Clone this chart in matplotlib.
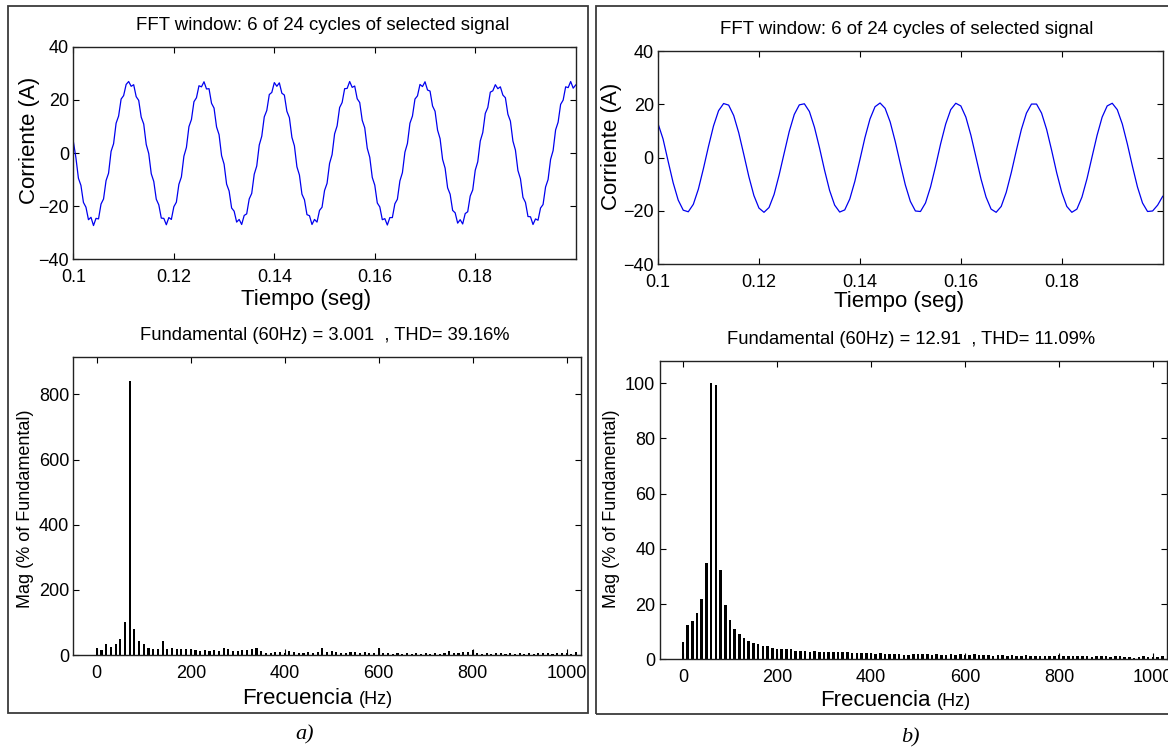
import numpy as np
import matplotlib.pyplot as plt
from matplotlib.patches import Rectangle

# ---- data ----
# a) current trace, sampled every 0.5 ms from 0.1 s to 0.2 s
T_A = np.linspace(0.1, 0.2, 201)
I_A = [
    4.2, -1.8, -9.5, -12.2, -18.6, -20.4, -25.1, -24.2, -27.3, -24.6,
    -24.8, -19.2, -17.3, -10.4, -7.6, 0.6, 3.5, 11.2, 13.9, 20.3,
    21.6, 25.8, 26.9, 25.1, 25.7, 21.2, 19.8, 13.5, 10.9, 3.2,
    -0.2, -7.8, -10.7, -17.4, -19.5, -24.5, -24.6, -27.0, -24.3, -25.0,
    -20.2, -18.5, -11.8, -9.0, -1.2, 2.1, 9.9, 12.6, 19.3, 20.8,
    25.3, 24.9, 26.8, 24.1, 24.2, 18.7, 16.9, 9.8, 6.9, -1.0,
    -4.2, -11.7, -14.3, -20.7, -21.9, -26.0, -25.0, -26.9, -23.5, -22.9,
    -17.3, -15.2, -8.0, -4.9, 3.0, 6.3, 13.6, 16.0, 22.0, 22.8,
    26.5, 25.1, 26.4, 22.5, 21.8, 15.7, 13.3, 5.9, 2.7, -5.2,
    -8.3, -15.5, -17.6, -23.2, -23.6, -26.9, -25.0, -26.0, -21.6, -20.4,
    -14.1, -11.4, -3.9, -0.6, 7.2, 10.2, 17.1, 19.0, 24.2, 24.3,
    26.9, 24.7, 25.2, 20.4, 19.0, 12.3, 9.5, 1.8, -1.6, -9.2,
    -12.1, -18.8, -20.3, -25.1, -24.7, -27.1, -24.3, -24.3, -19.1, -17.4,
    -10.5, -7.4, 0.3, 3.6, 11.2, 13.9, 20.3, 21.5, 25.8, 25.0,
    26.8, 23.7, 23.3, 17.7, 15.7, 8.6, 5.4, -2.4, -5.7, -13.1,
    -15.5, -21.6, -22.5, -26.4, -25.1, -26.7, -22.8, -22.1, -16.2, -13.9,
    -6.5, -3.3, 4.5, 7.7, 14.9, 17.1, 22.9, 23.4, 25.7, 24.2,
    24.9, 21.8, 20.8, 14.6, 12.0, 4.5, 1.1, -6.6, -9.7, -16.7,
    -18.6, -23.9, -24.0, -26.9, -24.8, -25.3, -20.7, -19.4, -12.8, -10.0,
    -2.4, 0.9, 8.7, 11.6, 18.3, 19.9, 24.9, 24.6, 26.9, 24.4,
    25.6,
]

# b) current trace, sampled every 1 ms
T_B = np.linspace(0.1, 0.2, 101)
I_B = [
    12.8, 7.0, -1.3, -9.4, -15.9, -19.7, -20.3, -17.5, -11.8, -4.1,
    4.2, 11.9, 17.6, 20.3, 19.7, 15.8, 9.3, 1.2, -7.1, -14.2,
    -18.9, -20.5, -18.7, -13.8, -6.5, 1.7, 9.8, 16.2, 19.8, 20.2,
    17.3, 11.4, 3.7, -4.7, -12.3, -17.8, -20.4, -19.6, -15.5, -8.9,
    -0.8, 7.5, 14.5, 19.1, 20.5, 18.5, 13.4, 6.1, -2.2, -10.2,
    -16.4, -20.0, -20.2, -17.0, -11.0, -3.2, 5.2, 12.6, 18.0, 20.4,
    19.4, 15.2, 8.4, 0.2, -8.0, -14.8, -19.3, -20.5, -18.3, -13.0,
    -5.6, 2.7, 10.6, 16.7, 20.1, 20.1, 16.7, 10.6, 2.7, -5.7,
    -13.0, -18.3, -20.5, -19.3, -14.8, -7.9, 0.3, 8.4, 15.2, 19.4,
    20.4, 18.0, 12.6, 5.1, -3.2, -11.0, -17.0, -20.2, -20.0, -17.8,
    -14.5,
]

# FFT bars, 10 Hz resolution, 0 .. 1020 Hz
FREQ = np.arange(0, 1030, 10)
MAG_A = [
    22, 14, 33, 26, 33, 48, 102, 841, 80, 44,
    33, 20, 19, 19, 44, 19, 22, 18, 18, 17,
    17, 14, 12, 14, 12, 14, 12, 22, 18, 12,
    12, 14, 14, 17, 20, 12, 6, 6, 8, 10,
    6, 12, 8, 6, 5, 8, 6, 8, 22, 8,
    12, 10, 5, 5, 9, 8, 5, 8, 5, 6,
    22, 5, 5, 4, 5, 4, 5, 4, 5, 4,
    5, 4, 5, 4, 6, 12, 6, 5, 8, 10,
    14, 5, 4, 5, 4, 7, 5, 4, 5, 4,
    5, 4, 5, 4, 5, 7, 5, 4, 5, 6,
    5, 4, 8,
]
MAG_B = [
    6.4, 12.5, 13.7, 16.7, 22.0, 35.0, 100.2, 99.2, 32.4, 19.8,
    14.2, 11.0, 9.0, 7.8, 6.8, 5.9, 5.5, 4.9, 4.8, 4.2,
    3.9, 3.7, 3.7, 3.6, 3.1, 2.9, 2.9, 2.8, 2.9, 2.8,
    2.8, 2.8, 2.5, 2.6, 2.8, 2.5, 2.4, 2.3, 2.4, 2.3,
    2.2, 2.0, 2.1, 2.0, 2.0, 1.9, 2.0, 1.7, 1.5, 1.9,
    1.8, 1.9, 1.8, 1.5, 1.8, 1.4, 1.7, 1.8, 1.5, 2.0,
    1.6, 1.4, 1.9, 1.5, 1.4, 1.6, 1.3, 1.5, 1.4, 1.3,
    1.4, 1.3, 1.3, 1.6, 1.2, 1.3, 1.2, 1.3, 1.2, 1.1,
    1.5, 1.2, 1.1, 1.2, 1.1, 1.2, 1.1, 1.0, 1.1, 1.2,
    1.1, 1.0, 1.1, 1.2, 1.0, 0.8, 0.6, 1.0, 1.1, 0.9,
    0.8, 0.9, 1.1,
]

TITLE_TOP = "FFT window: 6 of 24 cycles of selected signal"
TITLE_A = "Fundamental (60Hz) = 3.001  , THD= 39.16%"
TITLE_B = "Fundamental (60Hz) = 12.91  , THD= 11.09%"

W, H = 1168, 753
plt.rcParams['font.family'] = ['Liberation Sans', 'DejaVu Sans']
fig = plt.figure(figsize=(W / 100, H / 100), dpi=100)


def px_axes(left, top, right, bottom):
    # axes box given in picture pixels
    return fig.add_axes([left / W, 1 - bottom / H, (right - left) / W, (bottom - top) / H])


def ftext(x, y, s, **kw):
    fig.text(x / W, 1 - y / H, s, **kw)


def style(ax):
    ax.tick_params(direction='in', top=True, right=True, length=4, width=0.8,
                   labelsize=13, pad=3)
    ax.tick_params(axis='x', pad=7)
    for sp in ax.spines.values():
        sp.set_linewidth(1.0)
        sp.set_color('#222222')


def time_panel(ax, t, i):
    ax.plot(t, i, color='#0000ee', lw=0.9)
    ax.set_xlim(0.1, 0.2)
    ax.set_ylim(-40, 40)
    ax.set_xticks([0.1, 0.12, 0.14, 0.16, 0.18])
    ax.set_xticklabels(['0.1', '0.12', '0.14', '0.16', '0.18'])
    ax.set_yticks([-40, -20, 0, 20, 40])
    style(ax)


def fft_panel(ax, mag, width, ytop, yticks):
    ax.bar(FREQ, mag, width=width, color='black', linewidth=0)
    ax.set_xlim(-50, 1030)
    ax.set_ylim(0, ytop)
    ax.set_xticks([0, 200, 400, 600, 800, 1000])
    ax.set_yticks(yticks)
    style(ax)


# outer frames
fig.add_artist(Rectangle((7.5 / W, 1 - 713 / H), 580.8 / W, 707 / H, transform=fig.transFigure,
                         fill=False, ec='#3a3a3a', lw=1.3))
fig.add_artist(Rectangle((596 / W, 1 - 714 / H), 600 / W, 708 / H, transform=fig.transFigure,
                         fill=False, ec='#3a3a3a', lw=1.3))

# panel a
ax1 = px_axes(73.4, 46.7, 575.7, 259.3)
time_panel(ax1, T_A, I_A)
ax2 = px_axes(73.3, 357, 580.7, 655)
fft_panel(ax2, MAG_A, 4.5, 915, [0, 200, 400, 600, 800])

# panel b
ax3 = px_axes(658, 51, 1162.7, 264.3)
time_panel(ax3, T_B, I_B)
ax4 = px_axes(659.5, 361, 1167, 659.3)
fft_panel(ax4, MAG_B, 5.5, 108, [0, 20, 40, 60, 80, 100])

# texts
ftext(322.6, 25, TITLE_TOP, fontsize=13.4, ha='center', va='center')
ftext(907, 29.3, TITLE_TOP, fontsize=13.4, ha='center', va='center')
ftext(325, 335, TITLE_A, fontsize=13.2, ha='center', va='center')
ftext(911, 339.3, TITLE_B, fontsize=13.2, ha='center', va='center')

ftext(30, 140, "Corriente (A)", fontsize=16, rotation=90, ha='center', va='center')
ftext(612, 146, "Corriente (A)", fontsize=16, rotation=90, ha='center', va='center')
ftext(306, 299, "Tiempo (seg)", fontsize=16, ha='center', va='center')
ftext(899, 301, "Tiempo (seg)", fontsize=16, ha='center', va='center')

ftext(26, 509, "Mag (% of Fundamental)", fontsize=13, rotation=90, ha='center', va='center')
ftext(612, 509, "Mag (% of Fundamental)", fontsize=13, rotation=90, ha='center', va='center')
ftext(353, 704, "Frecuencia", fontsize=16, ha='right', va='baseline')
ftext(359, 704, "(Hz)", fontsize=13, ha='left', va='baseline')
ftext(931, 706, "Frecuencia", fontsize=16, ha='right', va='baseline')
ftext(937, 706, "(Hz)", fontsize=13, ha='left', va='baseline')

ftext(305, 735, "a)", fontsize=16, style='italic', family=['Liberation Serif', 'DejaVu Serif'],
      ha='center', va='center')
ftext(910, 738, "b)", fontsize=16, style='italic', family=['Liberation Serif', 'DejaVu Serif'],
      ha='center', va='center')

fig.savefig("out.png", dpi=100, facecolor='white')
